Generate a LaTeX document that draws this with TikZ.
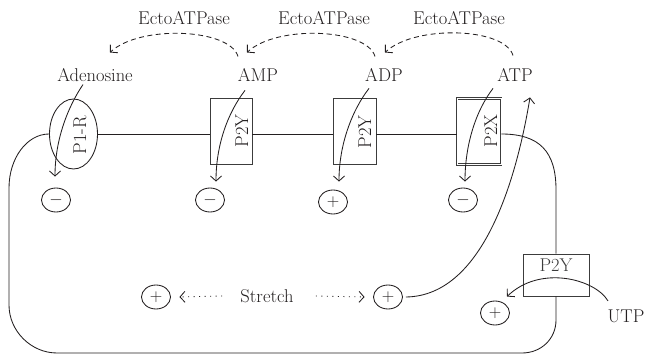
\documentclass[tikz,border=0pt]{standalone}
\usepackage{tikz}
\usetikzlibrary{arrows.meta,shapes.geometric}
\definecolor{ink}{HTML}{231F20}
\definecolor{rim}{HTML}{3C3C3C}

\begin{document}
\begin{tikzpicture}[x=1pt,y=-1pt,>={Straight Barb[length=5pt,width=11pt]},
  line width=0.85pt,ink,font=\fontsize{18.5}{22}\selectfont,
  word/.style={anchor=base,inner sep=0pt},
  vword/.style={rotate=90,anchor=base,inner sep=0pt},
  sign/.style={draw,ellipse,minimum width=29pt,minimum height=24pt,inner sep=0pt,font=\fontsize{17}{19}\selectfont},
  recbox/.style={draw,rim,minimum height=66pt,inner sep=0pt},
  ecto/.style={dash pattern=on 5pt off 3.5pt},
  pull/.style={dash pattern=on 1pt off 4.5pt}]
\useasboundingbox (0,0) rectangle (646,355);
\node[word] (ecto1) at (184,25) {EctoATPase};
\node[word] (ecto2) at (324,25) {EctoATPase};
\node[word] (ecto3) at (459,25) {EctoATPase};
\node[word] (aden) at (95,82) {Adenosine};
\node[word] (amp) at (258,82) {AMP};
\node[word] (adp) at (384,82) {ADP};
\node[word] (atp) at (515,82) {ATP};
\node[word] (utp) at (626,323) {UTP};
\node[inner sep=0pt] (stretch) at (267,296) {Stretch};
\node[draw,ellipse,minimum width=48pt,minimum height=70pt,inner sep=0pt] (p1r) at (73.5,134) {};
\node[vword] (p1rt) at (86,135) {P1-R};
\node[recbox,minimum width=42pt] (p2ya) at (231,131) {};
\node[vword] (p2yat) at (248,131) {P2Y};
\node[recbox,minimum width=43pt] (p2yb) at (354.5,131) {};
\node[vword] (p2ybt) at (371,132) {P2Y};
\node[recbox,minimum width=44pt,double,double distance=1pt] (p2x) at (479,131.5) {};
\node[vword] (p2xt) at (497,131) {P2X};
\node[draw,rim,minimum width=66pt,minimum height=42pt,inner sep=0pt,text height=18pt,text depth=24pt] (p2yc) at (556,275) {P2Y};
\node[sign] (m1) at (56,200) {$-$};
\node[sign] (m2) at (210,200) {$-$};
\node[sign] (p3) at (333,202) {$+$};
\node[sign] (m4) at (463,200) {$-$};
\node[sign] (pl) at (156,297) {$+$};
\node[sign] (pr) at (388,297) {$+$};
\node[sign] (pb) at (495,313) {$+$};
\draw (p1r.east) -- (p1r.east -| p2ya.west);
\draw (p2ya.east |- p1r.east) -- (p2yb.west |- p1r.east);
\draw (p2yb.east |- p1r.east) -- (p2x.west |- p1r.east);
\draw (p2x.east |- p1r.east) .. controls +(38,0) and +(0,-38) .. ([yshift=64pt]p2yc.north) -- (p2yc.north);
\draw (p1r.west) .. controls +(-22,0) and +(0,-30) .. (9,188) -- (9,305) .. controls +(0,26) and +(-26,0) .. (57,353) -- (522,353) .. controls +(19,0) and +(0,19) .. (556,320) -- (p2yc.south);
\draw[ecto,->] ([xshift=-20pt,yshift=12pt]amp.north) .. controls +(-8,-28) and +(30,-28) .. ([xshift=15pt,yshift=16pt]aden.north);
\draw[ecto,->] ([xshift=-9pt,yshift=12pt]adp.north) .. controls +(-8,-28) and +(30,-28) .. ([xshift=-11pt,yshift=16pt]amp.north);
\draw[ecto,->] ([xshift=-2pt,yshift=13pt]atp.north) .. controls +(-8,-28) and +(30,-28) .. ([xshift=1pt,yshift=16pt]adp.north);
\draw[->] ([xshift=-12pt,yshift=-2pt]aden.south) .. controls +(-15,22) and +(0,-37) .. ([xshift=-1pt,yshift=11pt]m1.north);
\draw[->] ([xshift=-13pt,yshift=-8pt]amp.south) .. controls +(-17,22) and +(0,-37) .. ([xshift=6pt,yshift=6pt]m2.north);
\draw[->] ([xshift=-15pt,yshift=-6pt]adp.south) .. controls +(-17,22) and +(0,-37) .. ([xshift=6pt,yshift=8pt]p3.north);
\draw[->] ([xshift=-22pt,yshift=-6pt]atp.south) .. controls +(-17,22) and +(0,-37) .. ([xshift=2pt,yshift=6pt]m4.north);
\draw[->] ([xshift=3pt]pr.east) .. controls +(80,-1) and +(-12,73) .. ([xshift=15pt,yshift=-15pt]atp.south);
\draw[->] ([xshift=-18pt,yshift=9pt]utp.north) .. controls +(-13,-22) and +(33,-32) .. ([xshift=12pt,yshift=4pt]pb.north);
\draw[pull,->] ([xshift=-18pt]stretch.west) -- ([xshift=8.5pt]pl.east);
\draw[pull,->] ([xshift=22pt]stretch.east) -- ([xshift=-8.5pt]pr.west);
\end{tikzpicture}
\end{document}
